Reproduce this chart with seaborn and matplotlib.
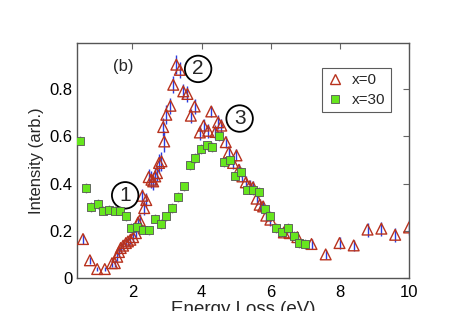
import numpy as np
import matplotlib
matplotlib.use("Agg")
import matplotlib.pyplot as plt
from matplotlib.lines import Line2D
import seaborn as sns

# x=0 sample (open triangles)
e_x0 = [0.57, 0.77, 0.98, 1.20, 1.41, 1.49, 1.56, 1.61, 1.66, 1.73, 1.81, 1.87,
        1.94, 2.02, 2.10, 2.16, 2.21, 2.29, 2.34, 2.40, 2.47, 2.55, 2.60, 2.66,
        2.71, 2.77, 2.84, 2.89, 2.92, 2.98, 3.10, 3.18, 3.27, 3.37, 3.47, 3.59,
        3.69, 3.80, 3.95, 4.06, 4.19, 4.28, 4.40, 4.48, 4.57, 4.70, 4.79, 4.91,
        5.01, 5.08, 5.18, 5.28, 5.39, 5.49, 5.59, 5.68, 5.78, 5.87, 5.99, 6.38,
        6.55, 6.77, 7.18, 7.59, 7.99, 8.40, 8.80, 9.20, 9.60, 10.0]
i_x0 = [0.165, 0.075, 0.038, 0.038, 0.063, 0.063, 0.090, 0.110, 0.127, 0.137, 0.148, 0.155,
        0.162, 0.173, 0.190, 0.235, 0.244, 0.348, 0.296, 0.330, 0.427, 0.416, 0.409, 0.430,
        0.444, 0.487, 0.494, 0.639, 0.578, 0.691, 0.729, 0.818, 0.903, 0.881, 0.790, 0.779,
        0.687, 0.726, 0.616, 0.645, 0.623, 0.705, 0.618, 0.659, 0.645, 0.575, 0.532, 0.487,
        0.519, 0.458, 0.430, 0.405, 0.388, 0.384, 0.336, 0.310, 0.303, 0.264, 0.247, 0.193,
        0.190, 0.173, 0.144, 0.100, 0.148, 0.138, 0.205, 0.209, 0.183, 0.214]
err_x0 = [0.02, 0.015, 0.01, 0.01, 0.015, 0.015, 0.02, 0.02, 0.02, 0.02, 0.02, 0.02,
          0.02, 0.02, 0.02, 0.025, 0.025, 0.03, 0.03, 0.03, 0.035, 0.035, 0.035, 0.035,
          0.035, 0.04, 0.04, 0.04, 0.045, 0.04, 0.035, 0.035, 0.04, 0.035, 0.03, 0.035,
          0.03, 0.03, 0.03, 0.03, 0.03, 0.025, 0.03, 0.03, 0.03, 0.025, 0.025, 0.025,
          0.025, 0.025, 0.025, 0.025, 0.025, 0.025, 0.025, 0.025, 0.025, 0.025, 0.025, 0.025,
          0.025, 0.02, 0.02, 0.02, 0.025, 0.025, 0.03, 0.03, 0.03, 0.03]

# x=30 sample (filled squares)
e_x30 = [0.48, 0.65, 0.81, 0.99, 1.15, 1.32, 1.49, 1.65, 1.81, 1.97, 2.14, 2.31,
         2.48, 2.65, 2.82, 2.98, 3.15, 3.32, 3.48, 3.66, 3.82, 3.99, 4.15, 4.31,
         4.49, 4.64, 4.81, 4.98, 5.15, 5.32, 5.49, 5.66, 5.83, 5.99, 6.15, 6.33,
         6.49, 6.66, 6.82, 6.99]
i_x30 = [0.581, 0.381, 0.300, 0.313, 0.285, 0.289, 0.285, 0.285, 0.261, 0.212, 0.214, 0.205,
         0.202, 0.251, 0.228, 0.261, 0.296, 0.343, 0.388, 0.477, 0.508, 0.547, 0.561, 0.554,
         0.599, 0.491, 0.501, 0.433, 0.449, 0.374, 0.371, 0.364, 0.292, 0.264, 0.212, 0.193,
         0.212, 0.179, 0.148, 0.144]
err_x30 = [0.02] * 40

xticks = [2, 4, 6, 8, 10]
yticks = [0, 0.2, 0.4, 0.6, 0.8]
ytick_labels = ["0", "0.2", "0.4", "0.6", "0.8"]

sns.set_style("white")
plt.rcParams["font.family"] = ["Liberation Sans", "DejaVu Sans"]

fig = plt.figure(figsize=(4.57, 3.11), dpi=100)
ax = fig.add_axes([0.168, 0.106, 0.727, 0.756])

tri_col = "#b8321e"
sq_col = "#66e61e"

ax.errorbar(e_x0, i_x0, yerr=err_x0, fmt="none", ecolor="#2a3de0", elinewidth=1.0, zorder=2)
sns.scatterplot(x=e_x0, y=i_x0, marker="^", s=60, color=tri_col, ax=ax, zorder=3)
ax.collections[-1].set_facecolor("none")
ax.collections[-1].set_edgecolor(tri_col)
ax.collections[-1].set_linewidth(1.0)

ax.errorbar(e_x30, i_x30, yerr=err_x30, fmt="none", ecolor="#999999", elinewidth=1.0, zorder=4)
sns.scatterplot(x=e_x30, y=i_x30, marker="s", s=34, color=sq_col, edgecolor="#555555",
                linewidth=0.6, ax=ax, zorder=5)

ax.set_xlim(0.39, 10)
ax.set_ylim(0, 0.995)
ax.set_xticks(xticks)
ax.set_yticks(yticks)
ax.set_yticklabels(ytick_labels)
ax.tick_params(direction="in", length=4, width=0.8, colors="#666666", labelcolor="black",
               labelsize=12, top=True, right=True)
ax.tick_params(axis="y", pad=3)
ax.tick_params(axis="x", pad=5)
for sp in ax.spines.values():
    sp.set_color("#555555")
    sp.set_linewidth(1.0)

ax.set_xlabel("Energy Loss (eV)", fontsize=13.5, labelpad=1)
ax.set_ylabel("Intensity (arb.)", fontsize=12, labelpad=4)

ax.text(1.45, 0.875, "(b)", fontsize=12)
circ = dict(boxstyle="circle,pad=0.18", fc="none", ec="black", lw=1.3)
ax.text(1.79, 0.35, "1", fontsize=15, ha="center", va="center", bbox=circ)
ax.text(3.9, 0.885, "2", fontsize=15, ha="center", va="center", bbox=circ)
ax.text(5.1, 0.675, "3", fontsize=15, ha="center", va="center", bbox=circ)

handles = [
    Line2D([], [], ls="none", marker="^", ms=7, mfc="none", mec=tri_col, mew=1.0),
    Line2D([], [], ls="none", marker="s", ms=6, mfc=sq_col, mec="#555555", mew=0.6),
]
leg = ax.legend(handles, ["x=0", "x=30"], loc="upper right", bbox_to_anchor=(0.96, 0.913),
                fontsize=11, frameon=True, fancybox=False, handlelength=1.0,
                handletextpad=0.65, borderpad=0.35, labelspacing=0.38, borderaxespad=0.3)
leg.get_frame().set_edgecolor("#333333")
leg.get_frame().set_linewidth(0.8)

fig.savefig("out.png", dpi=100)
